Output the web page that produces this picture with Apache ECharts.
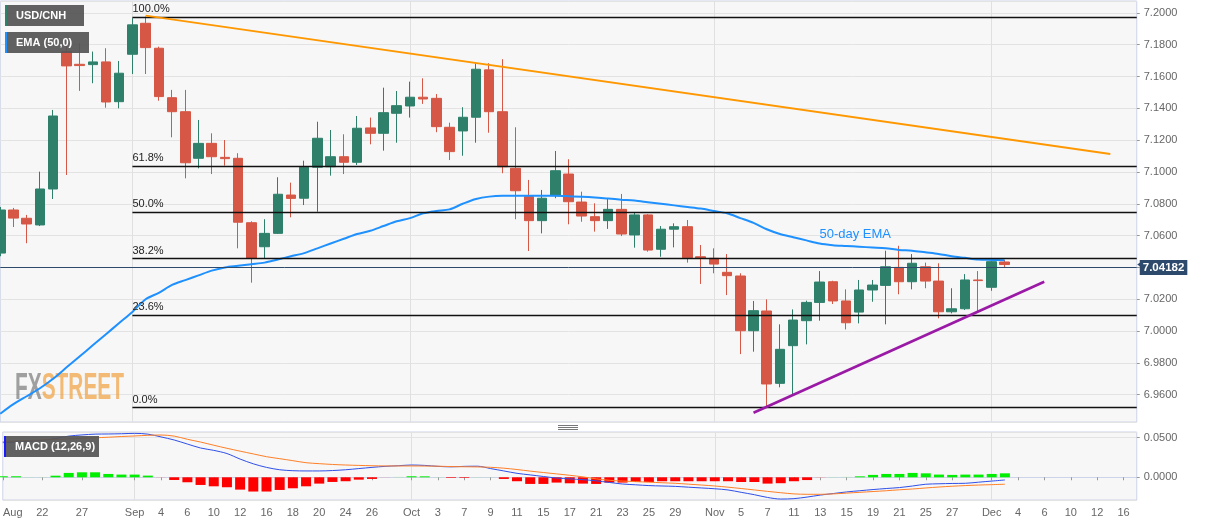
<!DOCTYPE html>
<html><head><meta charset="utf-8">
<script src="https://cdn.jsdelivr.net/npm/echarts@6/dist/echarts.min.js"></script>
<style>html,body{margin:0;padding:0;background:#fff}#c{width:1207px;height:526px}</style>
</head><body><div id="c"></div>
<script>
const categories = [
 'Aug 19','Aug 20','Aug 21','Aug 22','Aug 23','Aug 26','Aug 27','Aug 28','Aug 29','Aug 30',
 'Sep 2','Sep 3','Sep 4','Sep 5','Sep 6','Sep 9','Sep 10','Sep 11','Sep 12','Sep 13','Sep 16','Sep 17','Sep 18','Sep 19','Sep 20','Sep 23','Sep 24','Sep 25','Sep 26','Sep 27','Sep 30',
 'Oct 1','Oct 2','Oct 3','Oct 4','Oct 7','Oct 8','Oct 9','Oct 10','Oct 11','Oct 14','Oct 15','Oct 16','Oct 17','Oct 18','Oct 21','Oct 22','Oct 23','Oct 24','Oct 25','Oct 28','Oct 29','Oct 30','Oct 31',
 'Nov 1','Nov 4','Nov 5','Nov 6','Nov 7','Nov 8','Nov 11','Nov 12','Nov 13','Nov 14','Nov 15','Nov 18','Nov 19','Nov 20','Nov 21','Nov 22','Nov 25','Nov 26','Nov 27','Nov 28','Nov 29',
 'Dec 2','Dec 3','Dec 4','Dec 5','Dec 6','Dec 9','Dec 10','Dec 11','Dec 12','Dec 13','Dec 16','Dec 17'
];
const tickLabels = {'Aug 19':'Aug','Aug 22':'22','Aug 27':'27','Sep 2':'Sep','Sep 4':'4','Sep 6':'6','Sep 10':'10','Sep 12':'12','Sep 16':'16','Sep 18':'18','Sep 20':'20','Sep 24':'24','Sep 26':'26','Oct 1':'Oct','Oct 3':'3','Oct 7':'7','Oct 9':'9','Oct 11':'11','Oct 15':'15','Oct 17':'17','Oct 21':'21','Oct 23':'23','Oct 25':'25','Oct 29':'29','Nov 1':'Nov','Nov 5':'5','Nov 7':'7','Nov 11':'11','Nov 13':'13','Nov 15':'15','Nov 19':'19','Nov 21':'21','Nov 25':'25','Nov 27':'27','Dec 2':'Dec','Dec 4':'4','Dec 6':'6','Dec 10':'10','Dec 12':'12','Dec 16':'16'};
const monthStarts = ['Sep 2','Oct 1','Nov 1','Dec 2'];

const open  = [7.0490,7.0761,7.0709,7.0667,7.0893,7.1757,7.1677,7.1675,7.1692,7.1442,7.1740,7.1935,7.1778,7.1467,7.1379,7.1086,7.1180,7.1092,7.1086,7.0681,7.0530,7.0614,7.0855,7.0835,7.1030,7.1033,7.1096,7.1061,7.1277,7.1243,7.1369,7.1415,7.1470,7.1463,7.1281,7.1258,7.1344,7.1642,7.1379,7.1023,7.0845,7.0694,7.0851,7.0987,7.0811,7.0719,7.0694,7.0765,7.0604,7.0730,7.0514,7.0640,7.0656,7.0467,7.0457,7.0369,7.0346,7.0002,7.0126,6.9671,6.9908,7.0065,7.0180,7.0310,7.0189,7.0119,7.0258,7.0287,7.0400,7.0310,7.0404,7.0314,7.0121,7.0140,7.0321,7.0275,7.0434];
const close = [7.0761,7.0710,7.0673,7.0893,7.1352,7.1667,7.1669,7.1692,7.1440,7.1621,7.1925,7.1782,7.1474,7.1379,7.1058,7.1180,7.1096,7.1084,7.0684,7.0457,7.0614,7.0860,7.0834,7.1030,7.1212,7.1096,7.1061,7.1275,7.1243,7.1373,7.1417,7.1470,7.1459,7.1285,7.1128,7.1344,7.1646,7.1379,7.1033,7.0882,7.0694,7.0835,7.1008,7.0813,7.0723,7.0694,7.0765,7.0610,7.0730,7.0509,7.0640,7.0656,7.0461,7.0457,7.0421,7.0348,7.0002,7.0128,6.9667,6.9885,7.0069,7.0180,7.0308,7.0189,7.0052,7.0258,7.0289,7.0404,7.0310,7.0426,7.0314,7.0121,7.0140,7.0321,7.0317,7.0436,7.0418];
const low   = [7.0470,7.0654,7.0552,7.0660,7.0830,7.0981,7.1510,7.1558,7.1404,7.1400,7.1616,7.1616,7.1448,7.1218,7.0960,7.1023,7.0987,7.1040,7.0520,7.0304,7.0457,7.0610,7.0715,7.0792,7.0750,7.0977,7.0987,7.1044,7.1174,7.1134,7.1184,7.1342,7.1428,7.1250,7.1075,7.1102,7.1184,7.1247,7.0992,7.0703,7.0503,7.0614,7.0835,7.0671,7.0687,7.0625,7.0642,7.0597,7.0524,7.0499,7.0467,7.0526,7.0430,7.0296,7.0363,7.0226,6.9855,6.9870,6.9524,6.9646,6.9604,6.9916,7.0065,7.0170,7.0010,7.0048,7.0184,7.0042,7.0231,7.0262,7.0269,7.0080,7.0111,7.0132,7.0121,7.0253,7.0398];
const high  = [7.0780,7.0774,7.0730,7.1002,7.1390,7.1810,7.1810,7.1757,7.1778,7.1698,7.1967,7.1977,7.1788,7.1516,7.1516,7.1327,7.1243,7.1201,7.1118,7.0690,7.0703,7.0967,7.0933,7.1071,7.1316,7.1264,7.1237,7.1352,7.1342,7.1530,7.1509,7.1568,7.1589,7.1490,7.1310,7.1407,7.1684,7.1684,7.1709,7.1281,7.0950,7.0887,7.1132,7.1080,7.0876,7.0803,7.0835,7.0862,7.0744,7.0735,7.0660,7.0677,7.0698,7.0541,7.0520,7.0484,7.0363,7.0189,7.0199,7.0042,7.0136,7.0191,7.0377,7.0316,7.0262,7.0321,7.0321,7.0505,7.0536,7.0484,7.0430,7.0426,7.0269,7.0358,7.0377,7.0447,7.0447];

const ema50 = [6.948,6.954,6.959,6.964,6.970,6.977,6.984,6.991,6.998,7.005,7.012,7.020,7.024,7.029,7.032,7.035,7.038,7.040,7.041,7.042,7.043,7.045,7.047,7.049,7.052,7.055,7.058,7.061,7.063,7.066,7.069,7.071,7.074,7.0755,7.0765,7.080,7.083,7.0845,7.085,7.085,7.085,7.085,7.085,7.0848,7.0845,7.084,7.0833,7.0826,7.082,7.081,7.080,7.079,7.078,7.077,7.0755,7.074,7.071,7.068,7.064,7.061,7.059,7.057,7.055,7.054,7.0535,7.053,7.0525,7.052,7.051,7.0505,7.0495,7.0485,7.047,7.046,7.045,7.0447,7.0445];

const macdLine = [0.0437,0.0445,0.0455,0.0465,0.049,0.052,0.0535,0.0545,0.0547,0.055,0.0555,0.0545,0.051,0.0471,0.042,0.037,0.034,0.030,0.023,0.017,0.0125,0.0095,0.0083,0.008,0.008,0.0085,0.0095,0.011,0.0125,0.0138,0.0146,0.0155,0.015,0.0138,0.0132,0.0138,0.014,0.011,0.008,0.005,0.003,0.001,-0.001,-0.002,-0.003,-0.0045,-0.0065,-0.0085,-0.0095,-0.0105,-0.011,-0.0115,-0.0125,-0.0135,-0.0145,-0.016,-0.019,-0.022,-0.0255,-0.0275,-0.027,-0.025,-0.0225,-0.0205,-0.0185,-0.017,-0.0155,-0.0142,-0.013,-0.011,-0.0088,-0.0082,-0.0078,-0.0076,-0.0062,-0.0048,-0.0034];
const signalLine = [0.045,0.0458,0.0465,0.0472,0.0478,0.0485,0.0492,0.0499,0.0506,0.0515,0.0522,0.053,0.0534,0.052,0.048,0.0445,0.0405,0.0366,0.033,0.0295,0.026,0.0235,0.021,0.0184,0.0172,0.0162,0.0155,0.015,0.0146,0.0143,0.0143,0.0143,0.0142,0.014,0.0135,0.0133,0.0131,0.0126,0.0115,0.0098,0.0078,0.006,0.0043,0.0025,0.0005,-0.002,-0.0038,-0.0048,-0.0055,-0.0062,-0.0069,-0.0076,-0.0087,-0.0098,-0.011,-0.0125,-0.0142,-0.016,-0.0178,-0.0195,-0.021,-0.0215,-0.0215,-0.021,-0.02,-0.019,-0.018,-0.017,-0.0158,-0.0148,-0.0135,-0.0123,-0.0113,-0.0105,-0.0098,-0.0093,-0.0088];
const histogram = [0.0013,0.0013,0.0003,0.0003,0.002,0.0055,0.0063,0.0063,0.0042,0.0034,0.0034,0.0021,-0.0004,-0.0034,-0.0063,-0.0097,-0.0114,-0.0126,-0.0156,-0.018,-0.018,-0.016,-0.0139,-0.0114,-0.008,-0.0059,-0.005,-0.003,-0.0021,-0.0003,0.0005,0.0013,0.0012,0.0003,-0.0008,-0.0008,0.0003,0.0002,-0.0021,-0.005,-0.0084,-0.0084,-0.0067,-0.0076,-0.008,-0.0084,-0.0067,-0.0067,-0.006,-0.006,-0.005,-0.005,-0.005,-0.005,-0.005,-0.005,-0.006,-0.006,-0.008,-0.0075,-0.005,-0.0035,-0.0006,0.0004,0.0005,0.0012,0.003,0.0042,0.0042,0.0055,0.005,0.0034,0.003,0.0034,0.0034,0.0042,0.005];

const fibLevels = [7.1975, 7.1038, 7.0749, 7.0459, 7.0101, 6.9522];
const fibLabels = ['100.0%', '61.8%', '50.0%', '38.2%', '23.6%', '0.0%'];
const fibStart = 'Sep 2', fibEnd = 'Dec 17';
const resistance = [['Sep 3', 7.1983], ['Dec 13', 7.1113]];
const support = [['Nov 6', 6.9486], ['Dec 6', 7.0310]];
const lastPrice = 7.04182;
const emaLabelAt = ['Nov 18', 7.061];

const FONT = "'Liberation Sans', Arial, sans-serif";
const candles = open.map((o, i) => [o, close[i], low[i], high[i]]);
const showTick = (i, v) => Object.prototype.hasOwnProperty.call(tickLabels, v);
const showMonth = (i, v) => monthStarts.indexOf(v) >= 0;

const markLines = [];
fibLevels.forEach((lv, k) => {
  markLines.push([
    {coord: [fibStart, lv], lineStyle: {color: '#111', width: 1.4, type: 'solid'},
     label: {show: true, position: 'insideStartTop', formatter: fibLabels[k], color: '#222', fontSize: 11, fontFamily: FONT, distance: [0, 2]}},
    {coord: [fibEnd, lv]}
  ]);
});
markLines.push([{coord: resistance[0], lineStyle: {color: '#ff9800', width: 2, type: 'solid'}}, {coord: resistance[1]}]);
markLines.push([{coord: support[0], lineStyle: {color: '#9a1aa6', width: 2.6, type: 'solid'}}, {coord: support[1]}]);
markLines.push({yAxis: lastPrice, lineStyle: {color: '#2d4a6c', width: 1, type: 'solid'},
  label: {show: true, position: 'end', formatter: lastPrice.toFixed(5), color: '#fff', fontWeight: 'bold', fontSize: 11.5,
          backgroundColor: '#2d4a6c', padding: [2, 3, 1, 3], distance: 3, fontFamily: FONT}});

const histColor = v => {
  if (v >= 0) return Math.abs(v) < 0.0008 ? '#a6eea6' : '#00ee00';
  return Math.abs(v) < 0.0008 ? '#f4a3a3' : '#ff0000';
};

const gridBorder = '#cdd3e8';
const chart = echarts.init(document.getElementById('c'));
chart.setOption({
  animation: false,
  backgroundColor: '#fff',
  textStyle: {fontFamily: FONT},
  grid: [
    {left: 0.25, right: 70.25, top: 1, height: 421, show: true, backgroundColor: '#f7f7f7', borderColor: gridBorder, borderWidth: 1, z: 0},
    {left: 0.25, right: 70.25, top: 432, height: 68, show: true, backgroundColor: '#f7f7f7', borderColor: gridBorder, borderWidth: 1, z: 0}
  ],
  xAxis: [
    {type: 'category', gridIndex: 0, data: categories, boundaryGap: false,
     axisLine: {show: false}, axisTick: {show: false}, axisLabel: {show: false},
     splitLine: {show: true, interval: showMonth, lineStyle: {color: '#e0e0e0'}}},
    {type: 'category', gridIndex: 1, data: categories, boundaryGap: false,
     axisLine: {show: true, lineStyle: {color: gridBorder}},
     axisTick: {show: true, interval: showTick, length: 3, lineStyle: {color: '#999'}},
     axisLabel: {show: true, interval: showTick, color: '#666', fontSize: 11, margin: 7,
       formatter: v => v === categories[0] ? '{first|' + tickLabels[v] + '}' : (tickLabels[v] || ''),
       rich: {first: {padding: [0, 0, 0, 20], color: '#666', fontSize: 11}}},
     splitLine: {show: true, interval: showMonth, lineStyle: {color: '#e0e0e0'}}}
  ],
  yAxis: [
    {type: 'value', gridIndex: 0, position: 'right', min: 6.9428, max: 7.2075, splitNumber: 13,
     axisLine: {show: false}, axisTick: {show: true, length: 3, lineStyle: {color: '#999'}},
     axisLabel: {formatter: v => v.toFixed(4), color: '#666', fontSize: 11, margin: 7, showMinLabel: false, showMaxLabel: false},
     splitLine: {show: true, lineStyle: {color: '#e3e3e3'}}},
    {type: 'value', gridIndex: 1, position: 'right', min: -0.0287, max: 0.0572, splitNumber: 2,
     axisLine: {show: false}, axisTick: {show: true, length: 3, lineStyle: {color: '#999'}},
     axisLabel: {formatter: v => v.toFixed(4), color: '#666', fontSize: 11, margin: 7, showMinLabel: false, showMaxLabel: false},
     splitLine: {show: true, lineStyle: {color: '#e3e3e3'}}}
  ],
  series: [
    {type: 'candlestick', xAxisIndex: 0, yAxisIndex: 0, data: candles, barWidth: 10, z: 2, clip: true,
     itemStyle: {color: '#2e806b', color0: '#d65745', borderColor: '#2e806b', borderColor0: '#d65745', borderWidth: 1},
     markLine: {silent: true, symbol: ['none', 'none'], label: {show: false}, data: markLines},
     markPoint: {silent: true, data: [{coord: [fibEnd, lastPrice], symbol: 'triangle', symbolSize: [7, 5], symbolRotate: 90, symbolOffset: [3, 0],
       itemStyle: {color: '#2d4a6c'}, label: {show: false}}]}},
    {type: 'line', xAxisIndex: 0, yAxisIndex: 0, data: ema50, showSymbol: false, smooth: 0.3, z: 3,
     lineStyle: {color: '#1e90ff', width: 2},
     markPoint: {silent: true, data: [{coord: emaLabelAt, symbol: 'circle', symbolSize: 0,
       label: {show: true, position: 'inside', formatter: '50-day EMA', color: '#1e90ff', fontSize: 13, offset: [-4, 0]}}]}},
    {type: 'bar', xAxisIndex: 1, yAxisIndex: 1, data: histogram, barWidth: 10, z: 2,
     itemStyle: {color: p => histColor(p.value)}},
    {type: 'line', xAxisIndex: 1, yAxisIndex: 1, data: macdLine, showSymbol: false, smooth: 0.3, z: 3,
     lineStyle: {color: '#2f4fe8', width: 1}},
    {type: 'line', xAxisIndex: 1, yAxisIndex: 1, data: signalLine, showSymbol: false, smooth: 0.3, z: 3,
     lineStyle: {color: '#ff7f27', width: 1}}
  ],
  graphic: [
    {type: 'text', x: 15, y: 389, scaleX: 0.58, z: 1, silent: true,
     style: {text: '{a|FX}{b|STREET}', verticalAlign: 'middle',
       rich: {a: {fontSize: 36, fontWeight: 'bold', fontFamily: FONT, fill: 'rgba(130,130,130,0.75)'},
              b: {fontSize: 36, fontWeight: 'bold', fontFamily: FONT, fill: 'rgba(240,160,60,0.7)'}}}},
    {type: 'rect', z: 100, shape: {x: 5, y: 5, width: 79, height: 21}, style: {fill: 'rgba(85,85,85,0.93)'}},
    {type: 'rect', z: 101, shape: {x: 5, y: 5, width: 2, height: 21}, style: {fill: '#2e806b'}},
    {type: 'text', z: 101, x: 16, y: 16, style: {text: 'USD/CNH', fill: '#fff', font: 'bold 11px ' + FONT, verticalAlign: 'middle'}},
    {type: 'rect', z: 100, shape: {x: 5, y: 32, width: 84, height: 21}, style: {fill: 'rgba(85,85,85,0.93)'}},
    {type: 'rect', z: 101, shape: {x: 5, y: 32, width: 2, height: 21}, style: {fill: '#1e90ff'}},
    {type: 'text', z: 101, x: 16, y: 43, style: {text: 'EMA (50,0)', fill: '#fff', font: 'bold 11px ' + FONT, verticalAlign: 'middle'}},
    {type: 'rect', z: 100, shape: {x: 4, y: 436, width: 95, height: 21}, style: {fill: 'rgba(85,85,85,0.93)'}},
    {type: 'rect', z: 101, shape: {x: 4, y: 436, width: 2, height: 21}, style: {fill: '#1a1aff'}},
    {type: 'text', z: 101, x: 15, y: 447, style: {text: 'MACD (12,26,9)', fill: '#fff', font: 'bold 11px ' + FONT, verticalAlign: 'middle'}},
    {type: 'line', z: 50, shape: {x1: 558, y1: 425.5, x2: 578, y2: 425.5}, style: {stroke: '#777', lineWidth: 1}},
    {type: 'line', z: 50, shape: {x1: 558, y1: 427.5, x2: 578, y2: 427.5}, style: {stroke: '#777', lineWidth: 1}},
    {type: 'line', z: 50, shape: {x1: 558, y1: 429.5, x2: 578, y2: 429.5}, style: {stroke: '#777', lineWidth: 1}}
  ]
});
</script>
</body></html>
